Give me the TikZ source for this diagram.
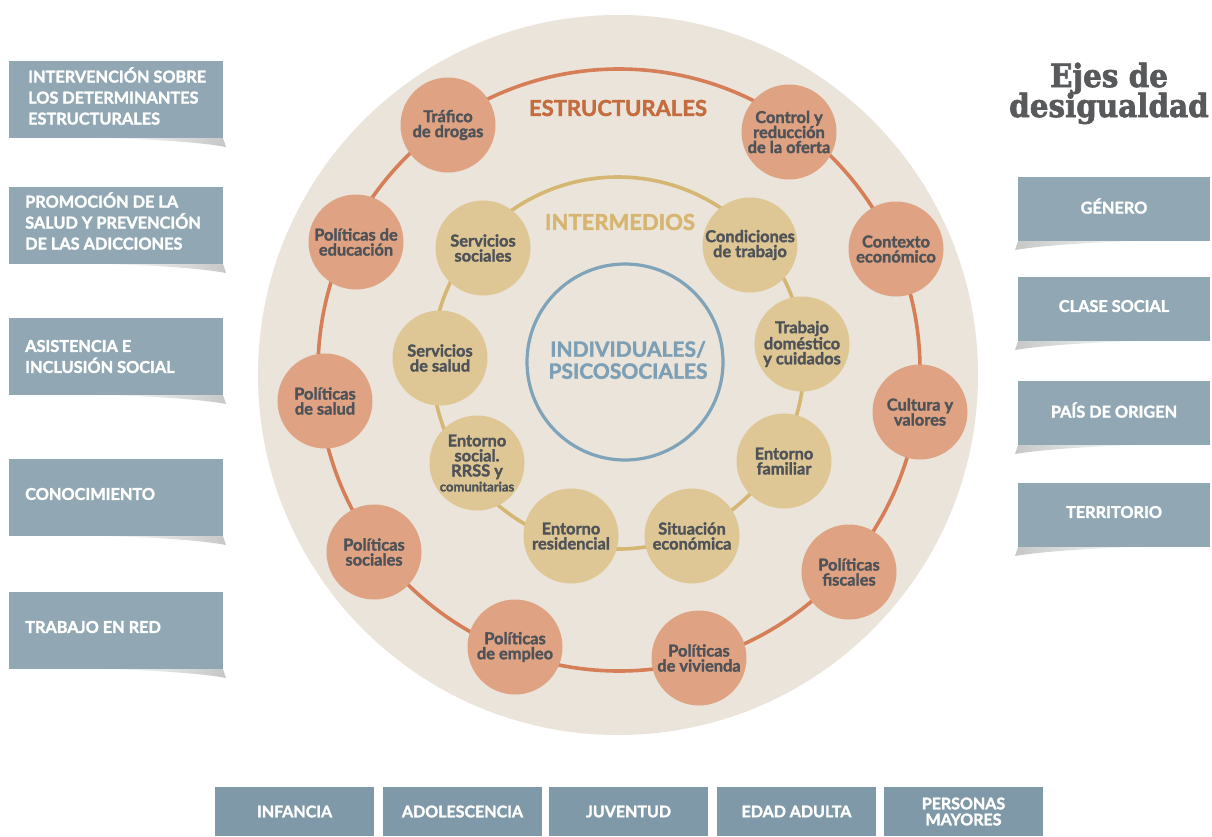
\documentclass[tikz,border=0pt]{standalone}
\usepackage{fontspec}
\setmainfont{Lato}[BoldFeatures={FakeBold=1.8}]
\newfontfamily\titlefont{DejaVu Serif}[BoldFont={DejaVu Serif Bold},BoldFeatures={FakeBold=2.2}]
\definecolor{bgbeige}{HTML}{EAE4DA}
\definecolor{ofill}{HTML}{DFA383}
\definecolor{oring}{HTML}{D57E57}
\definecolor{gfill}{HTML}{DEC795}
\definecolor{gring}{HTML}{D5B672}
\definecolor{bring}{HTML}{7FA3B8}
\definecolor{btext}{HTML}{7C9FB5}
\definecolor{otext}{HTML}{C46C3E}
\definecolor{gtext}{HTML}{D6B570}
\definecolor{ntext}{HTML}{4F5358}
\definecolor{boxc}{HTML}{91A8B4}
\definecolor{bboxc}{HTML}{8099A8}
\definecolor{titlec}{HTML}{58595B}
\begin{document}
\begin{tikzpicture}[x=1pt,y=-1pt,
  nodefont/.style={font=\fontsize{16.4}{15}\selectfont\bfseries},
  onode/.style={circle,fill=ofill,minimum size=95pt,inner sep=0pt,align=center,text=ntext,nodefont},
  gnode/.style={circle,fill=gfill,minimum size=95pt,inner sep=0pt,align=center,text=ntext,nodefont},
  boxfont/.style={font=\fontsize{16.3}{21}\selectfont\bfseries},
  lbox/.style={rectangle,fill=boxc,anchor=north west,minimum width=214pt,minimum height=77pt,inner sep=0pt},
  ltext/.style={anchor=west,inner sep=0pt,align=left,text=white,boxfont},
  rbox/.style={rectangle,fill=boxc,minimum width=192pt,minimum height=64pt,inner sep=0pt,align=center,text=white,text depth=6pt,boxfont},
  bbox/.style={rectangle,fill=bboxc,minimum width=159pt,minimum height=49pt,inner sep=0pt,align=center,text=white,font=\fontsize{16}{16}\selectfont\bfseries},
  ringlabel/.style={font=\fontsize{22}{22}\selectfont\bfseries,align=center},
  titlestyle/.style={anchor=base,font=\titlefont\bfseries\fontsize{32}{30}\selectfont,text=titlec}
]
\useasboundingbox (0,0) rectangle (1212,836);
\fill[white] (0,0) rectangle (1212,836);

% big beige disc
\fill[bgbeige] (618,375) circle[radius=360pt];
% rings
\draw[oring,line width=3.6pt] (619,370) circle[radius=301pt];
\draw[gring,line width=3.6pt] (618,363) circle[radius=186pt];
\draw[bring,line width=3.2pt] (625,362) circle[radius=98pt];

% ring labels
\node[ringlabel,text=otext] (lest) at (618,108) {ESTRUCTURALES};
\node[ringlabel,text=gtext] (lint) at (620,222) {INTERMEDIOS};
\node[ringlabel,text=btext,font=\fontsize{21}{22}\selectfont\bfseries] (lind) at (628,360) {INDIVIDUALES/\\PSICOSOCIALES};

% structural nodes
\node[onode] (o1) at (448,125) {Tráfico\\de drogas};
\node[onode] (o2) at (789,132) {Control y\\reducción\\de la oferta};
\node[onode] (o3) at (896,249) {Contexto\\económico};
\node[onode] (o4) at (920,412) {Cultura y\\valores};
\node[onode] (o5) at (849,572) {Políticas\\fiscales};
\node[onode] (o6) at (699,658) {Políticas\\de vivienda};
\node[onode] (o7) at (515,647) {Políticas\\de empleo};
\node[onode] (o8) at (374,552) {Políticas\\sociales};
\node[onode] (o9) at (325,401) {Políticas\\de salud};
\node[onode] (o10) at (356,242) {Políticas de\\educación};

% intermediate nodes
\node[gnode] (g1) at (483,248) {Servicios\\sociales};
\node[gnode] (g2) at (750,245) {Condiciones\\de trabajo};
\node[gnode] (g3) at (802,344) {Trabajo\\doméstico\\y cuidados};
\node[gnode] (g4) at (784,461) {Entorno\\familiar};
\node[gnode] (g5) at (692,536) {Situación\\económica};
\node[gnode] (g6) at (571,536) {Entorno\\residencial};
\node[gnode] (g7) at (477,463) {Entorno\\social.\\RRSS y\\{\fontsize{13}{15}\selectfont comunitarias}};
\node[gnode] (g8) at (440,358) {Servicios\\de salud};

% left boxes shadows
\foreach \b in {138,264,395,536,669}{
  \shade[left color=white,right color=black!22] (95,\b) .. controls (160,\b+1) and (205,\b+5) .. (226,\b+9) -- (223,\b) -- cycle;
}
% left boxes
\node[lbox] (l1) at (9,61) {};
\node[lbox] (l2) at (9,187) {};
\node[lbox] (l3) at (9,318) {};
\node[lbox] (l4) at (9,459) {};
\node[lbox] (l5) at (9,592) {};
\node[ltext] (l1t) at (28,96) {INTERVENCIÓN SOBRE\\LOS DETERMINANTES\\ESTRUCTURALES};
\node[ltext] (l2t) at (25,221) {PROMOCIÓN DE LA\\SALUD Y PREVENCIÓN\\DE LAS ADICCIONES};
\node[ltext] (l3t) at (25,356.5) {ASISTENCIA E\\INCLUSIÓN SOCIAL};
\node[ltext] (l4t) at (25,494) {CONOCIMIENTO};
\node[ltext] (l5t) at (25,627) {TRABAJO EN RED};

% title
\node[titlestyle] (t1) at (1109,87) {\scalebox{0.92}[1]{Ejes de}};
\node[titlestyle] (t2) at (1109,117) {\scalebox{0.92}[1]{desigualdad}};

% right boxes shadows
\foreach \b in {241,341,445,547}{
  \shade[left color=black!22,right color=white] (1015,\b+9) .. controls (1038,\b+5) and (1090,\b+1) .. (1145,\b) -- (1018,\b) -- cycle;
}
% right boxes
\node[rbox] (r1) at (1114,209) {GÉNERO};
\node[rbox] (r2) at (1114,309) {CLASE SOCIAL};
\node[rbox] (r3) at (1114,413) {PAÍS DE ORIGEN};
\node[rbox] (r4) at (1114,515) {TERRITORIO};

% bottom boxes
\node[bbox] (b1) at (294.6,811.5) {INFANCIA};
\node[bbox] (b2) at (462.5,811.5) {ADOLESCENCIA};
\node[bbox] (b3) at (628.5,811.5) {JUVENTUD};
\node[bbox] (b4) at (796.5,811.5) {EDAD ADULTA};
\node[bbox] (b5) at (963.5,811.5) {PERSONAS\\MAYORES};
\end{tikzpicture}
\end{document}
